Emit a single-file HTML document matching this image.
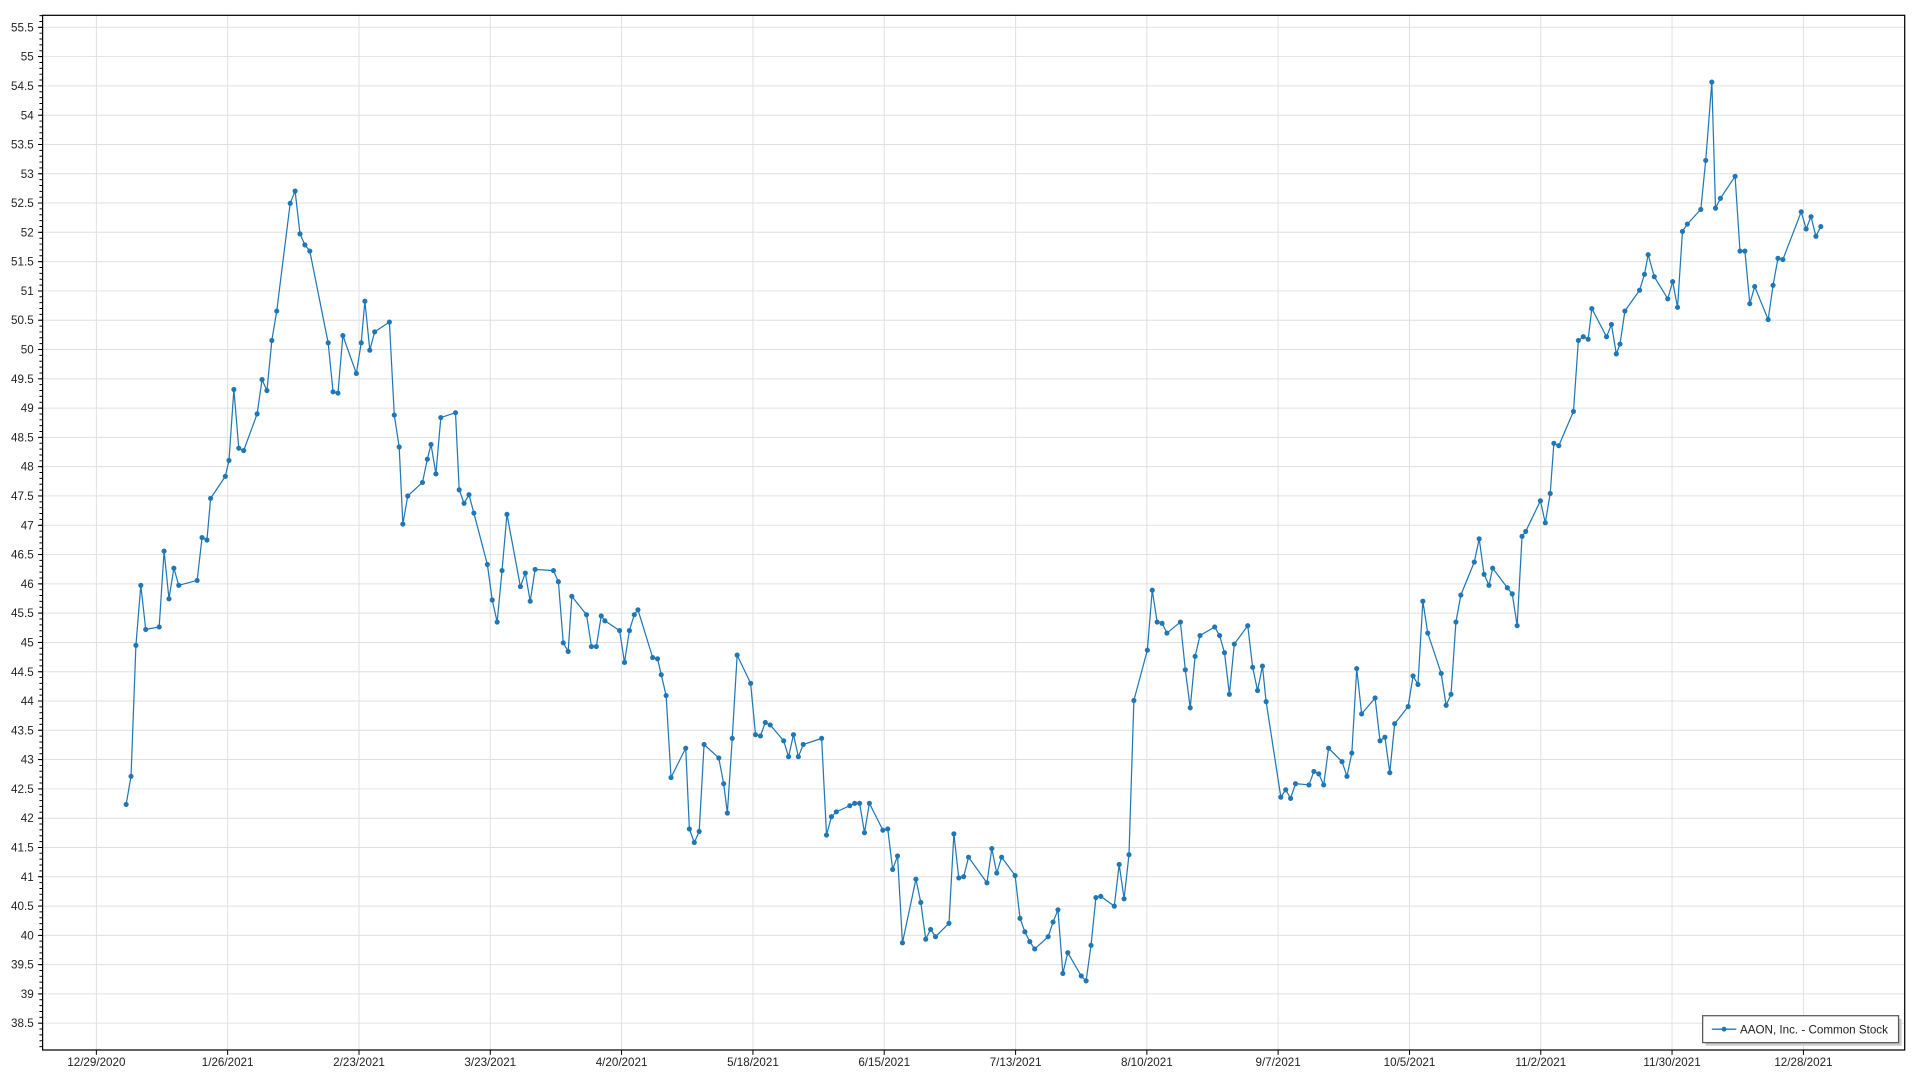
<!DOCTYPE html>
<html><head><meta charset="utf-8"><style>html,body{margin:0;padding:0;background:#fff}svg{display:block}</style></head>
<body>
<svg width="1920" height="1080" viewBox="0 0 1568 882" xmlns="http://www.w3.org/2000/svg" font-family="'Liberation Sans', sans-serif">
<defs>
<marker id="dot" viewBox="-3 -3 6 6" markerWidth="6" markerHeight="6" markerUnits="userSpaceOnUse"><circle r="2.1" fill="#1f77b4"/></marker>
</defs>
<rect width="1568" height="882" fill="#fff"/>
<g stroke="#e0e0e0" stroke-width="0.8">
<line x1="35" x2="1556" y1="22.3" y2="22.3"/><line x1="35" x2="1556" y1="46.2" y2="46.2"/><line x1="35" x2="1556" y1="70.1" y2="70.1"/><line x1="35" x2="1556" y1="94.1" y2="94.1"/><line x1="35" x2="1556" y1="118" y2="118"/><line x1="35" x2="1556" y1="141.9" y2="141.9"/><line x1="35" x2="1556" y1="165.8" y2="165.8"/><line x1="35" x2="1556" y1="189.7" y2="189.7"/><line x1="35" x2="1556" y1="213.7" y2="213.7"/><line x1="35" x2="1556" y1="237.6" y2="237.6"/><line x1="35" x2="1556" y1="261.5" y2="261.5"/><line x1="35" x2="1556" y1="285.4" y2="285.4"/><line x1="35" x2="1556" y1="309.4" y2="309.4"/><line x1="35" x2="1556" y1="333.3" y2="333.3"/><line x1="35" x2="1556" y1="357.2" y2="357.2"/><line x1="35" x2="1556" y1="381.1" y2="381.1"/><line x1="35" x2="1556" y1="405" y2="405"/><line x1="35" x2="1556" y1="429" y2="429"/><line x1="35" x2="1556" y1="452.9" y2="452.9"/><line x1="35" x2="1556" y1="476.8" y2="476.8"/><line x1="35" x2="1556" y1="500.7" y2="500.7"/><line x1="35" x2="1556" y1="524.7" y2="524.7"/><line x1="35" x2="1556" y1="548.6" y2="548.6"/><line x1="35" x2="1556" y1="572.5" y2="572.5"/><line x1="35" x2="1556" y1="596.4" y2="596.4"/><line x1="35" x2="1556" y1="620.3" y2="620.3"/><line x1="35" x2="1556" y1="644.3" y2="644.3"/><line x1="35" x2="1556" y1="668.2" y2="668.2"/><line x1="35" x2="1556" y1="692.1" y2="692.1"/><line x1="35" x2="1556" y1="716" y2="716"/><line x1="35" x2="1556" y1="740" y2="740"/><line x1="35" x2="1556" y1="763.9" y2="763.9"/><line x1="35" x2="1556" y1="787.8" y2="787.8"/><line x1="35" x2="1556" y1="811.7" y2="811.7"/><line x1="35" x2="1556" y1="835.6" y2="835.6"/>
<line y1="12.5" y2="857.5" x1="78.7" x2="78.7"/><line y1="12.5" y2="857.5" x1="185.9" x2="185.9"/><line y1="12.5" y2="857.5" x1="293.2" x2="293.2"/><line y1="12.5" y2="857.5" x1="400.4" x2="400.4"/><line y1="12.5" y2="857.5" x1="507.6" x2="507.6"/><line y1="12.5" y2="857.5" x1="614.9" x2="614.9"/><line y1="12.5" y2="857.5" x1="722.1" x2="722.1"/><line y1="12.5" y2="857.5" x1="829.4" x2="829.4"/><line y1="12.5" y2="857.5" x1="936.6" x2="936.6"/><line y1="12.5" y2="857.5" x1="1043.8" x2="1043.8"/><line y1="12.5" y2="857.5" x1="1151.1" x2="1151.1"/><line y1="12.5" y2="857.5" x1="1258.3" x2="1258.3"/><line y1="12.5" y2="857.5" x1="1365.5" x2="1365.5"/><line y1="12.5" y2="857.5" x1="1472.8" x2="1472.8"/>
</g>
<rect x="34.8" y="12.5" width="1520.7" height="845" fill="none" stroke="#000" stroke-width="1"/>
<line x1="33.4" x2="33.4" y1="12.35" y2="857.5" stroke="#000" stroke-width="2.4" stroke-dasharray="0.8 3.984"/>
<g stroke="#000" stroke-width="0.8">
<line x1="31" x2="34.8" y1="22.3" y2="22.3"/><line x1="31" x2="34.8" y1="46.2" y2="46.2"/><line x1="31" x2="34.8" y1="70.1" y2="70.1"/><line x1="31" x2="34.8" y1="94.1" y2="94.1"/><line x1="31" x2="34.8" y1="118" y2="118"/><line x1="31" x2="34.8" y1="141.9" y2="141.9"/><line x1="31" x2="34.8" y1="165.8" y2="165.8"/><line x1="31" x2="34.8" y1="189.7" y2="189.7"/><line x1="31" x2="34.8" y1="213.7" y2="213.7"/><line x1="31" x2="34.8" y1="237.6" y2="237.6"/><line x1="31" x2="34.8" y1="261.5" y2="261.5"/><line x1="31" x2="34.8" y1="285.4" y2="285.4"/><line x1="31" x2="34.8" y1="309.4" y2="309.4"/><line x1="31" x2="34.8" y1="333.3" y2="333.3"/><line x1="31" x2="34.8" y1="357.2" y2="357.2"/><line x1="31" x2="34.8" y1="381.1" y2="381.1"/><line x1="31" x2="34.8" y1="405" y2="405"/><line x1="31" x2="34.8" y1="429" y2="429"/><line x1="31" x2="34.8" y1="452.9" y2="452.9"/><line x1="31" x2="34.8" y1="476.8" y2="476.8"/><line x1="31" x2="34.8" y1="500.7" y2="500.7"/><line x1="31" x2="34.8" y1="524.7" y2="524.7"/><line x1="31" x2="34.8" y1="548.6" y2="548.6"/><line x1="31" x2="34.8" y1="572.5" y2="572.5"/><line x1="31" x2="34.8" y1="596.4" y2="596.4"/><line x1="31" x2="34.8" y1="620.3" y2="620.3"/><line x1="31" x2="34.8" y1="644.3" y2="644.3"/><line x1="31" x2="34.8" y1="668.2" y2="668.2"/><line x1="31" x2="34.8" y1="692.1" y2="692.1"/><line x1="31" x2="34.8" y1="716" y2="716"/><line x1="31" x2="34.8" y1="740" y2="740"/><line x1="31" x2="34.8" y1="763.9" y2="763.9"/><line x1="31" x2="34.8" y1="787.8" y2="787.8"/><line x1="31" x2="34.8" y1="811.7" y2="811.7"/><line x1="31" x2="34.8" y1="835.6" y2="835.6"/>
<line y1="857.5" y2="861.5" x1="78.7" x2="78.7"/><line y1="857.5" y2="861.5" x1="185.9" x2="185.9"/><line y1="857.5" y2="861.5" x1="293.2" x2="293.2"/><line y1="857.5" y2="861.5" x1="400.4" x2="400.4"/><line y1="857.5" y2="861.5" x1="507.6" x2="507.6"/><line y1="857.5" y2="861.5" x1="614.9" x2="614.9"/><line y1="857.5" y2="861.5" x1="722.1" x2="722.1"/><line y1="857.5" y2="861.5" x1="829.4" x2="829.4"/><line y1="857.5" y2="861.5" x1="936.6" x2="936.6"/><line y1="857.5" y2="861.5" x1="1043.8" x2="1043.8"/><line y1="857.5" y2="861.5" x1="1151.1" x2="1151.1"/><line y1="857.5" y2="861.5" x1="1258.3" x2="1258.3"/><line y1="857.5" y2="861.5" x1="1365.5" x2="1365.5"/><line y1="857.5" y2="861.5" x1="1472.8" x2="1472.8"/>
</g>
<g font-size="9.5" fill="#222" text-anchor="end">
<text x="27.5" y="25.6">55.5</text><text x="27.5" y="49.5">55</text><text x="27.5" y="73.4">54.5</text><text x="27.5" y="97.4">54</text><text x="27.5" y="121.3">53.5</text><text x="27.5" y="145.2">53</text><text x="27.5" y="169.1">52.5</text><text x="27.5" y="193">52</text><text x="27.5" y="217">51.5</text><text x="27.5" y="240.9">51</text><text x="27.5" y="264.8">50.5</text><text x="27.5" y="288.7">50</text><text x="27.5" y="312.7">49.5</text><text x="27.5" y="336.6">49</text><text x="27.5" y="360.5">48.5</text><text x="27.5" y="384.4">48</text><text x="27.5" y="408.3">47.5</text><text x="27.5" y="432.3">47</text><text x="27.5" y="456.2">46.5</text><text x="27.5" y="480.1">46</text><text x="27.5" y="504">45.5</text><text x="27.5" y="528">45</text><text x="27.5" y="551.9">44.5</text><text x="27.5" y="575.8">44</text><text x="27.5" y="599.7">43.5</text><text x="27.5" y="623.6">43</text><text x="27.5" y="647.6">42.5</text><text x="27.5" y="671.5">42</text><text x="27.5" y="695.4">41.5</text><text x="27.5" y="719.3">41</text><text x="27.5" y="743.3">40.5</text><text x="27.5" y="767.2">40</text><text x="27.5" y="791.1">39.5</text><text x="27.5" y="815">39</text><text x="27.5" y="838.9">38.5</text>
</g>
<g font-size="9.5" fill="#222" text-anchor="middle">
<text x="78.7" y="870.5">12/29/2020</text><text x="185.9" y="870.5">1/26/2021</text><text x="293.2" y="870.5">2/23/2021</text><text x="400.4" y="870.5">3/23/2021</text><text x="507.6" y="870.5">4/20/2021</text><text x="614.9" y="870.5">5/18/2021</text><text x="722.1" y="870.5">6/15/2021</text><text x="829.4" y="870.5">7/13/2021</text><text x="936.6" y="870.5">8/10/2021</text><text x="1043.8" y="870.5">9/7/2021</text><text x="1151.1" y="870.5">10/5/2021</text><text x="1258.3" y="870.5">11/2/2021</text><text x="1365.5" y="870.5">11/30/2021</text><text x="1472.8" y="870.5">12/28/2021</text>
</g>
<polyline fill="none" stroke="#1f77b4" stroke-width="1" marker-start="url(#dot)" marker-mid="url(#dot)" marker-end="url(#dot)" points="103,657 107,634 111,527 115,478 119,514 130,512 134,450 138,489 142,464 146,478 161,474 165,439 169,441 172,407 184,389 187,376 191,318 195,366 199,368 210,338 214,310 218,319 222,278 226,254 237,166 241,156 245,191 249,200 253,205 268,280 272,320 276,321 280,274 291,305 295,280 298,246 302,286 306,271 318,263 322,339 326,365 329,428 333,405 345,394 349,375 352,363 356,387 360,341 372,337 375,400 379,411 383,404 387,419 398,461 402,490 406,508 410,466 414,420 425,479 429,468 433,491 437,465 452,466 456,475 460,525 464,532 467,487 479,502 483,528 487,528 491,503 494,507 506,515 510,541 514,515 518,502 521,498 533,537 537,538 540,551 544,568 548,635 560,611 563,677 567,688 571,679 575,608 587,619 591,640 594,664 598,603 602,535 613,558 617,600 621,601 625,590 629,592 640,605 644,618 648,600 652,618 656,608 671,603 675,682 679,667 683,663 694,658 698,656 702,656 706,680 710,656 721,678 725,677 729,710 733,699 737,770 748,718 752,737 756,767 760,759 764,765 775,754 779,681 783,717 787,716 791,700 806,721 810,693 814,713 818,700 829,715 833,750 837,761 841,769 845,775 856,765 860,753 864,743 868,795 872,778 883,797 887,801 891,772 895,733 899,732 910,740 914,706 918,734 922,698 926,572 937,531 941,482 945,508 949,509 953,517 964,508 968,547 972,578 976,536 980,519 992,512 996,519 1000,533 1004,567 1008,526 1019,511 1023,545 1027,564 1031,544 1034,573 1046,651 1050,645 1054,652 1058,640 1069,641 1073,630 1077,632 1081,641 1085,611 1096,622 1100,634 1104,615 1108,546 1112,583 1123,570 1127,605 1131,602 1135,631 1139,591 1150,577 1154,552 1158,559 1162,491 1166,517 1177,550 1181,576 1185,567 1189,508 1193,486 1204,459 1208,440 1212,469 1216,478 1219,464 1231,480 1235,485 1239,511 1243,438 1246,434 1258,409 1262,427 1266,403 1269,362 1273,364 1285,336 1289,278 1293,275 1297,277 1300,252 1312,275 1316,265 1320,289 1323,281 1327,254 1339,237 1343,224 1346,208 1351,226 1362,244 1366,230 1370,251 1374,189 1378,183 1389,171 1393,131 1398,67 1401,170 1405,162 1417,144 1421,205 1425,205 1429,248 1433,234 1444,261 1448,233 1452,211 1456,212 1471,173 1475,187 1479,177 1483,193 1487,185"/>
<rect x="1393" y="832" width="160" height="22" fill="#ccc"/>
<rect x="1390.5" y="829.5" width="160" height="22" fill="#fff" stroke="#555" stroke-width="1"/>
<line x1="1398" x2="1418" y1="840.5" y2="840.5" stroke="#1f77b4" stroke-width="1.2"/>
<circle cx="1408" cy="840.5" r="2" fill="#1f77b4"/>
<text x="1421" y="844" font-size="9.5" fill="#222">AAON, Inc. - Common Stock</text>
</svg>
</body></html>
